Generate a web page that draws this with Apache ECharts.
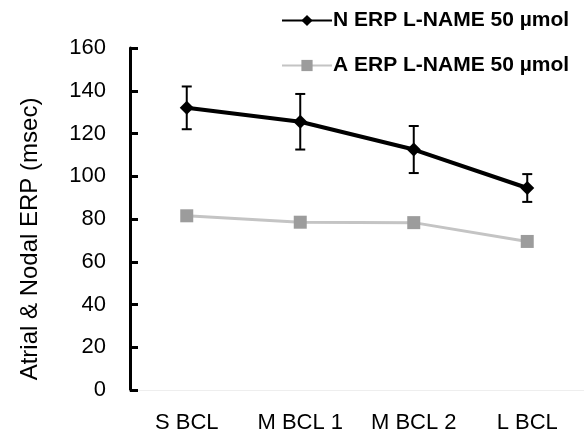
<!DOCTYPE html>
<html>
<head>
<meta charset="utf-8">
<script src="https://cdn.jsdelivr.net/npm/echarts@6/dist/echarts.min.js"></script>
<style>
  html, body { margin: 0; padding: 0; background: #fff; }
  #chart { width: 584px; height: 441px; }
</style>
</head>
<body>
<div id="chart"></div>
<script>
// 类别与数据
const categories = ['S BCL', 'M BCL 1', 'M BCL 2', 'L BCL']
const nErp = [132, 125.5, 112.5, 94.5]
const nErpErr = [10, 13, 11, 6.5]
const aErp = [81.5, 78.5, 78.3, 69.5]
const yTicks = [0, 20, 40, 60, 80, 100, 120, 140, 160]

const chart = echarts.init(document.getElementById('chart'))

const option = {
  animation: false,
  textStyle: { fontFamily: 'Liberation Sans, Arial, sans-serif' },
  legend: {
    orient: 'vertical',
    left: 276,
    top: 5,
    itemWidth: 50,
    itemHeight: 14,
    itemGap: 24,
    textStyle: { fontSize: 21, fontWeight: 'bold', color: '#000', padding: [0, 0, 0, -4] },
    data: ['N ERP L-NAME 50 µmol', 'A ERP L-NAME 50 µmol']
  },
  grid: {
    left: 130,
    top: 48,
    width: 463,
    height: 342
  },
  xAxis: {
    type: 'category',
    data: categories,
    boundaryGap: true,
    axisLine: { lineStyle: { color: '#eeeeee', width: 1 } },
    axisTick: { show: false },
    axisLabel: { color: '#000', fontSize: 22, margin: 22 }
  },
  yAxis: {
    type: 'value',
    min: yTicks[0],
    max: yTicks[yTicks.length - 1],
    interval: 20,
    name: 'Atrial & Nodal ERP (msec)',
    nameLocation: 'middle',
    nameGap: 88,
    nameTextStyle: { fontSize: 24, color: '#000', padding: [0, 40, 0, 0] },
    axisLine: { show: true, lineStyle: { color: '#000', width: 3 } },
    axisTick: { show: true, inside: true, length: 8, lineStyle: { color: '#000', width: 3 } },
    axisLabel: { color: '#000', fontSize: 22, margin: 24 },
    splitLine: { show: false }
  },
  series: [
    {
      name: 'A ERP L-NAME 50 µmol',
      type: 'line',
      data: aErp,
      symbol: 'rect',
      symbolSize: 13,
      lineStyle: { color: '#c4c4c4', width: 3 },
      itemStyle: { color: '#9c9c9c', borderWidth: 0 },
      z: 2
    },
    {
      name: 'N ERP L-NAME 50 µmol',
      type: 'line',
      data: nErp,
      symbol: 'diamond',
      symbolSize: 14,
      lineStyle: { color: '#000', width: 4 },
      itemStyle: { color: '#000', borderWidth: 0 },
      z: 3
    },
    {
      type: 'custom',
      name: 'errN',
      z: 4,
      data: nErp.map((v, i) => [i, v - nErpErr[i], v + nErpErr[i]]),
      renderItem: function (params, api) {
        const lo = api.coord([api.value(0), api.value(1)])
        const hi = api.coord([api.value(0), api.value(2)])
        const w = 5
        const style = { stroke: '#000', lineWidth: 2 }
        return {
          type: 'group',
          children: [
            { type: 'line', shape: { x1: hi[0], y1: hi[1], x2: lo[0], y2: lo[1] }, style: style },
            { type: 'line', shape: { x1: hi[0] - w, y1: hi[1], x2: hi[0] + w, y2: hi[1] }, style: style },
            { type: 'line', shape: { x1: lo[0] - w, y1: lo[1], x2: lo[0] + w, y2: lo[1] }, style: style }
          ]
        }
      }
    }
  ]
}

chart.setOption(option)
</script>
</body>
</html>
